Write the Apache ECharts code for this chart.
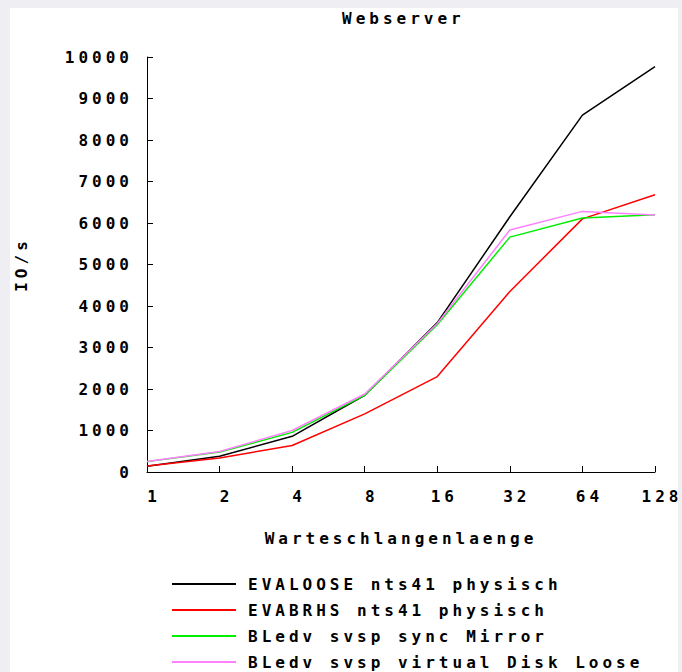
<!DOCTYPE html>
<html>
<head>
<meta charset="utf-8">
<script src="https://cdn.jsdelivr.net/npm/echarts@6/dist/echarts.min.js"></script>
<style>
  html, body { margin: 0; padding: 0; background: #eeeef3; }
  #chart { width: 682px; height: 672px; }
  #chart text { letter-spacing: 4px; }
</style>
</head>
<body>
<div id="chart"></div>
<script>
const categories = ['1', '2', '4', '8', '16', '32', '64', '128'];
const seriesNames = [
  'EVALOOSE nts41 physisch',
  'EVABRHS nts41 physisch',
  'BLedv svsp sync Mirror',
  'BLedv svsp virtual Disk Loose'
];
const evaloose = [140, 380, 860, 1850, 3600, 6150, 8600, 9770];
const evabrhs  = [145, 340, 640, 1400, 2300, 4350, 6100, 6680];
const syncMirror = [250, 480, 955, 1850, 3550, 5660, 6120, 6200];
const virtualDisk = [255, 495, 1000, 1880, 3580, 5830, 6280, 6190];
const seriesColors = ['#000000', '#ff0000', '#00ee00', '#ff80ff'];
const yTicks = { min: 0, max: 10000, interval: 1000 };

const font = '"DejaVu Sans Mono", monospace';
const chart = echarts.init(document.getElementById('chart'), null, { renderer: 'svg' });
const dataSets = [evaloose, evabrhs, syncMirror, virtualDisk];

chart.setOption({
  backgroundColor: '#eeeef3',
  animation: false,
  graphic: [{
    type: 'rect', left: 10, top: 8, z: -10, silent: true,
    shape: { width: 668, height: 664 },
    style: { fill: '#ffffff' }
  }],
  title: {
    text: 'Webserver',
    left: 337, top: 5,
    textStyle: { fontFamily: font, fontWeight: 'bold', fontSize: 16, color: '#000' }
  },
  grid: { left: 147, right: 27, top: 57, bottom: 200, containLabel: false },
  legend: {
    orient: 'vertical',
    left: 171, top: 576,
    height: 100,
    padding: 0,
    itemWidth: 64, itemHeight: 14, itemGap: 10,
    data: seriesNames,
    textStyle: { fontFamily: font, fontWeight: 'bold', fontSize: 16, color: '#000', padding: [0, 0, 0, 7] },
    itemStyle: { opacity: 0 },
    lineStyle: { width: 2 }
  },
  xAxis: {
    type: 'category',
    data: categories,
    boundaryGap: false,
    name: 'Warteschlangenlaenge',
    nameLocation: 'middle',
    nameGap: 58,
    nameTextStyle: { fontFamily: font, fontWeight: 'bold', fontSize: 16, color: '#000' },
    axisLine: { lineStyle: { color: '#000', width: 1 } },
    axisTick: { inside: true, length: 6, alignWithLabel: true, lineStyle: { color: '#000' } },
    axisLabel: { fontFamily: font, fontWeight: 'bold', fontSize: 16, color: '#000', margin: 16, padding: [0, 0, 0, 14], interval: 0 },
    splitLine: { show: false }
  },
  yAxis: {
    type: 'value',
    min: yTicks.min, max: yTicks.max, interval: yTicks.interval,
    name: 'IO/s',
    nameLocation: 'middle',
    nameGap: 118,
    nameRotate: 90,
    nameTextStyle: { fontFamily: font, fontWeight: 'bold', fontSize: 16, color: '#000' },
    axisLine: { show: true, lineStyle: { color: '#000', width: 1 } },
    axisTick: { show: true, inside: true, length: 6, lineStyle: { color: '#000' } },
    axisLabel: { fontFamily: font, fontWeight: 'bold', fontSize: 16, color: '#000', margin: 14, formatter: v => String(v) },
    splitLine: { show: false }
  },
  series: seriesNames.map((name, i) => ({
    name: name,
    type: 'line',
    data: dataSets[i],
    symbol: 'none',
    showSymbol: false,
    color: seriesColors[i],
    lineStyle: { color: seriesColors[i], width: 1.5 }
  }))
});
</script>
</body>
</html>
